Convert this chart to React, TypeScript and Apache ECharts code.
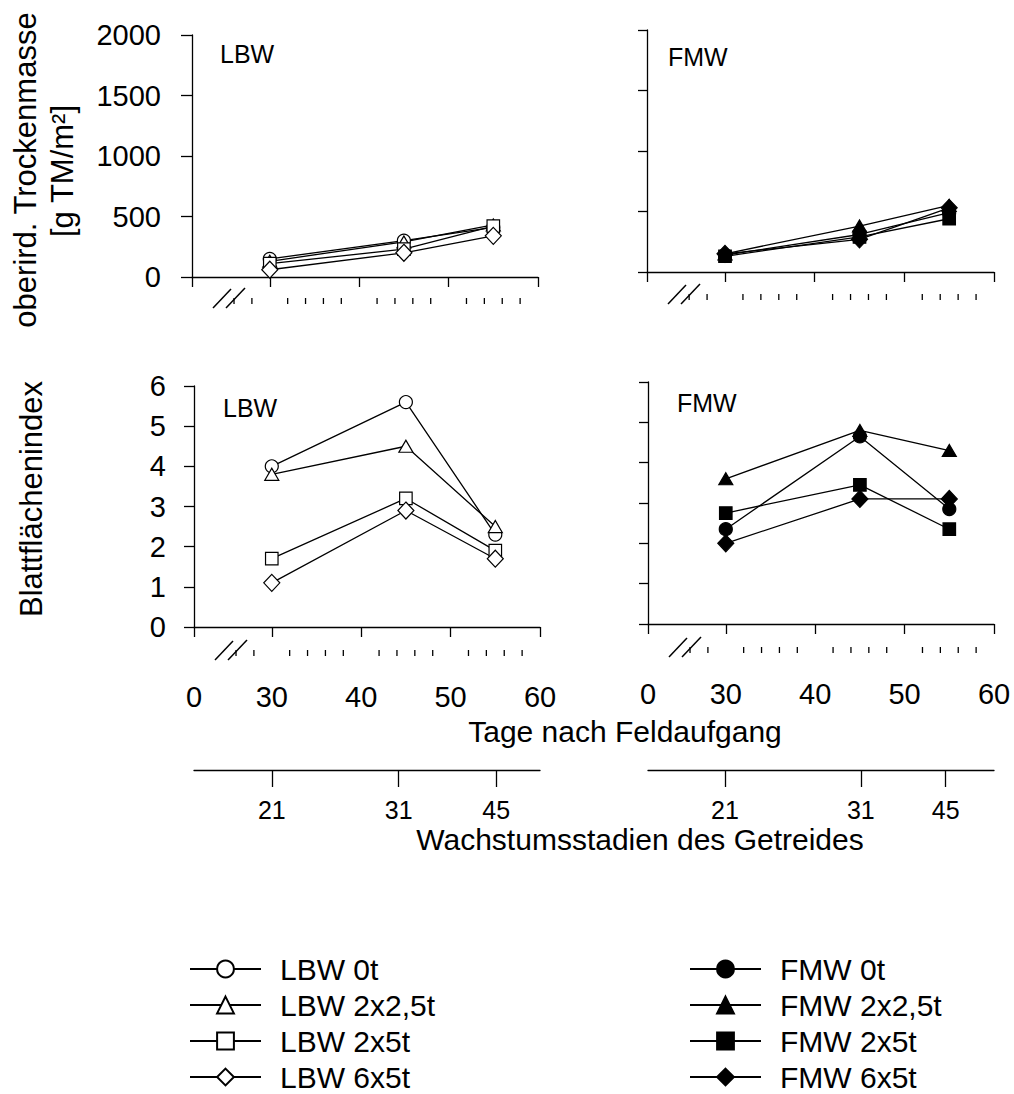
import React, { useEffect, useRef } from 'react';
import * as echarts from 'echarts';

// ---------- data ----------
const days = [30, 45, 55];
const namesLBW = ['LBW 0t', 'LBW 2x2,5t', 'LBW 2x5t', 'LBW 6x5t'];
const namesFMW = ['FMW 0t', 'FMW 2x2,5t', 'FMW 2x5t', 'FMW 6x5t'];
const symbols = ['circle', 'triangle', 'rect', 'diamond'];

// oberirdische Trockenmasse [g TM/m²]
const massLBW0 = [150, 300, 410];
const massLBW25 = [130, 290, 430];
const massLBW5 = [110, 230, 420];
const massLBW65 = [60, 200, 340];
const massFMW0 = [140, 310, 490];
const massFMW25 = [150, 380, 550];
const massFMW5 = [130, 290, 440];
const massFMW65 = [150, 270, 530];

// Blattflächenindex
const laiLBW0 = [4.0, 5.6, 2.3];
const laiLBW25 = [3.8, 4.5, 2.5];
const laiLBW5 = [1.7, 3.2, 1.9];
const laiLBW65 = [1.1, 2.9, 1.7];
const laiFMW0 = [2.35, 4.65, 2.85];
const laiFMW25 = [3.6, 4.8, 4.3];
const laiFMW5 = [2.75, 3.45, 2.35];
const laiFMW65 = [2.0, 3.1, 3.1];

// axes
const xMin = 21.3; // position of the (broken) origin
const xMax = 60;
const zeroLabel = '0';
const dayTicks = [30, 40, 50, 60];
const dayMinorTicks = [26, 28, 32, 34, 36, 38, 42, 44, 46, 48, 52, 54, 56, 58];
const stageLabels = ['21', '31', '45'];
const stageDaysLBW = [30, 44.2, 55.1];
const stageDaysFMW = [29.9, 45.1, 54.6];
const massTicks = { min: 0, max: 2000, interval: 500 };
const laiTicks = { min: 0, max: 6, interval: 1 };

const FONT = '"Liberation Sans", Arial, Helvetica, sans-serif';

// ---------- layout ----------
const grids = [
  { left: 192, top: 35, width: 346, height: 242, xOffset: 21, yMargin: 31, yTick: 11, labels: false, yLabels: true },
  { left: 647, top: 30, width: 347, height: 242, xOffset: 22, yMargin: 31, yTick: 9, labels: false, yLabels: false },
  { left: 194, top: 386, width: 346, height: 241, xOffset: 23, yMargin: 28, yTick: 10, labels: true, yLabels: true, stageOffset: 143 },
  { left: 648, top: 382, width: 346, height: 242, xOffset: 23, yMargin: 28, yTick: 9, labels: true, yLabels: false, stageOffset: 146 },
];
const legendRowCenters = [968, 1004, 1040, 1076];
const legendColumns = [189, 689];

export default function App() {
  const ref = useRef<HTMLDivElement>(null);

  useEffect(() => {
    if (!ref.current) return;
    const chart = echarts.init(ref.current, null, { renderer: 'svg' });

    const axisLine = { show: true, lineStyle: { color: '#000', width: 1.3 } };
    const tickLine = { color: '#000', width: 1.3 };
    const xAxes: any[] = [];
    const yAxes: any[] = [];
    const dayAxisIndex: number[] = [];

    grids.forEach((g, gi) => {
      dayAxisIndex.push(xAxes.length);
      xAxes.push({
        type: 'value', gridIndex: gi, min: xMin, max: xMax, position: 'bottom', offset: g.xOffset,
        axisLine,
        splitLine: { show: false },
        axisTick: { show: true, inside: false, length: 10, customValues: [xMin, ...dayTicks], lineStyle: tickLine },
        axisLabel: {
          show: g.labels, customValues: [xMin, ...dayTicks], margin: 32, fontSize: 29, color: '#000', fontFamily: FONT,
          formatter: (v: number) => (Math.abs(v - xMin) < 1e-6 ? zeroLabel : String(v)),
        },
      });
      if (g.stageOffset !== undefined) {
        const sd = gi === 2 ? stageDaysLBW : stageDaysFMW;
        xAxes.push({
          type: 'value', gridIndex: gi, min: xMin, max: xMax, position: 'bottom', offset: g.stageOffset,
          axisLine,
          splitLine: { show: false },
          axisTick: { show: true, inside: false, length: 17, customValues: sd, lineStyle: tickLine },
          axisLabel: {
            show: true, customValues: sd, margin: 27, fontSize: 25, color: '#000', fontFamily: FONT,
            formatter: (v: number) => {
              let best = 0;
              sd.forEach((d, i) => { if (Math.abs(d - v) < Math.abs(sd[best] - v)) best = i; });
              return stageLabels[best];
            },
          },
        });
      }
      const t = gi < 2 ? massTicks : laiTicks;
      yAxes.push({
        type: 'value', gridIndex: gi, min: t.min, max: t.max, interval: t.interval,
        axisLine,
        splitLine: { show: false },
        axisTick: { show: true, inside: false, length: g.yTick, lineStyle: tickLine },
        axisLabel: { show: g.yLabels, margin: g.yMargin, fontSize: 29, color: '#000', fontFamily: FONT, formatter: (v: number) => String(v) },
      });
    });

    const mk = (name: string, idx: number, gi: number, vals: number[], filled: boolean) => {
      const sym = symbols[idx];
      const size = sym === 'circle' ? 13 : sym === 'triangle' ? [14, 12] : sym === 'rect' ? 12.5 : [16, 17];
      return {
        type: 'line', name, xAxisIndex: dayAxisIndex[gi], yAxisIndex: gi,
        data: days.map((d, i) => [d, vals[i]]),
        symbol: sym, symbolSize: size, showSymbol: true,
        lineStyle: { color: '#000', width: 1.3 },
        itemStyle: { color: filled ? '#000' : '#fff', borderColor: '#000', borderWidth: 1.2 },
        emphasis: { disabled: true },
        z: 3,
      };
    };

    const series = [
      mk(namesLBW[0], 0, 0, massLBW0, false),
      mk(namesLBW[1], 1, 0, massLBW25, false),
      mk(namesLBW[2], 2, 0, massLBW5, false),
      mk(namesLBW[3], 3, 0, massLBW65, false),
      mk(namesFMW[0], 0, 1, massFMW0, true),
      mk(namesFMW[1], 1, 1, massFMW25, true),
      mk(namesFMW[2], 2, 1, massFMW5, true),
      mk(namesFMW[3], 3, 1, massFMW65, true),
      mk(namesLBW[0], 0, 2, laiLBW0, false),
      mk(namesLBW[1], 1, 2, laiLBW25, false),
      mk(namesLBW[2], 2, 2, laiLBW5, false),
      mk(namesLBW[3], 3, 2, laiLBW65, false),
      mk(namesFMW[0], 0, 3, laiFMW0, true),
      mk(namesFMW[1], 1, 3, laiFMW25, true),
      mk(namesFMW[2], 2, 3, laiFMW5, true),
      mk(namesFMW[3], 3, 3, laiFMW65, true),
    ];

    const legends: any[] = [];
    [namesLBW, namesFMW].forEach((names, ci) => {
      names.forEach((n, ri) => {
        legends.push({
          orient: 'vertical', left: legendColumns[ci], top: legendRowCenters[ri] - 14, padding: 0,
          itemWidth: 71, itemHeight: 21, selectedMode: false, data: [n],
          textStyle: { fontSize: 30, color: '#000', fontFamily: FONT, lineHeight: 28, padding: [0, 0, 0, 14] },
        });
      });
    });

    const graphic: any[] = [];
    const txt = (text: string, x: number, y: number, size: number, rot = 0, align = 'left') => ({
      type: 'text', x, y, rotation: rot, silent: true,
      style: { text, fontSize: size, fontFamily: FONT, fill: '#000', align, verticalAlign: 'middle', textAlign: align, textVerticalAlign: 'middle' },
    });
    graphic.push(txt('LBW', 220, 54, 25));
    graphic.push(txt('FMW', 668, 57, 25));
    graphic.push(txt('LBW', 223, 408, 25));
    graphic.push(txt('FMW', 677, 403, 25));
    graphic.push(txt('oberird. Trockenmasse', 25, 170, 31, Math.PI / 2, 'center'));
    graphic.push(txt('[g TM/m²]', 62, 171, 31, Math.PI / 2, 'center'));
    graphic.push(txt('Blattflächenindex', 31, 499, 31, Math.PI / 2, 'center'));
    graphic.push(txt('Tage nach Feldaufgang', 625, 731, 30, 0, 'center'));
    graphic.push(txt('Wachstumsstadien des Getreides', 640, 839, 30, 0, 'center'));

    grids.forEach((g) => {
      const x0 = g.left;
      const y = g.top + g.height + g.xOffset;
      graphic.push({ type: 'line', silent: true, shape: { x1: x0 + 21, y1: y + 10, x2: x0 + 39, y2: y - 9 }, style: { stroke: '#000', lineWidth: 1.5 } });
      graphic.push({ type: 'line', silent: true, shape: { x1: x0 + 34, y1: y + 10, x2: x0 + 53, y2: y - 10 }, style: { stroke: '#000', lineWidth: 1.5 } });
    });

    const baseOption = {
      animation: false,
      backgroundColor: '#fff',
      grid: grids.map((g) => ({ left: g.left, top: g.top, width: g.width, height: g.height, containLabel: false, outerBoundsMode: 'none' })),
      xAxis: xAxes,
      yAxis: yAxes,
      legend: legends,
      series,
      graphic,
    };
    chart.setOption(baseOption);

    // minor day ticks, positioned through the axis scale of each panel
    const tickGraphics: any[] = [];
    grids.forEach((g, gi) => {
      const yBottom = chart.convertToPixel({ yAxisIndex: gi } as any, 0) as number;
      const y = (typeof yBottom === 'number' ? yBottom : g.top + g.height) + g.xOffset;
      dayMinorTicks.forEach((d) => {
        const px = chart.convertToPixel({ xAxisIndex: dayAxisIndex[gi] } as any, d) as number;
        if (typeof px !== 'number' || isNaN(px)) return;
        tickGraphics.push({ type: 'line', silent: true, shape: { x1: px, y1: y, x2: px, y2: y + 6 }, style: { stroke: '#000', lineWidth: 1.3 } });
      });
    });
    chart.setOption({ graphic: [...graphic, ...tickGraphics] });

    return () => chart.dispose();
  }, []);

  return <div ref={ref} style={{ position: 'fixed', left: 0, top: 0, width: 1014, height: 1094, background: '#fff' }} />;
}
